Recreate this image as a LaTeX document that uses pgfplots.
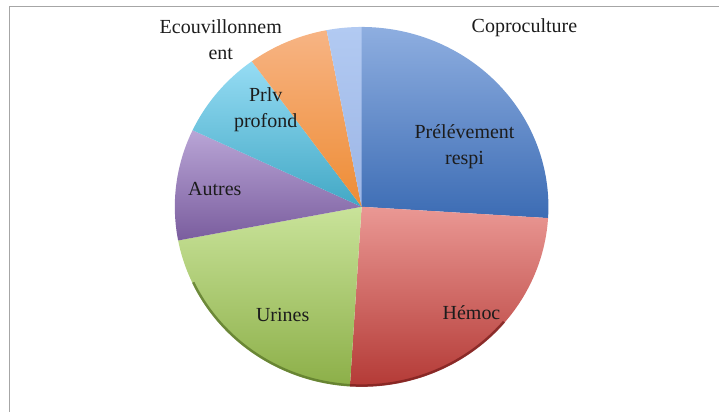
\documentclass[border=0pt]{standalone}
\usepackage{fontspec}
\setmainfont{Liberation Serif}
\usepackage{pgfplots}
\pgfplotsset{compat=1.18}
\definecolor{respiT}{HTML}{8EAEE0}
\definecolor{respiB}{HTML}{3C6CB4}
\definecolor{hemocT}{HTML}{EA9894}
\definecolor{hemocB}{HTML}{B43A36}
\definecolor{urinT}{HTML}{C9E39A}
\definecolor{urinB}{HTML}{8CAF48}
\definecolor{autrT}{HTML}{B9A5D6}
\definecolor{autrB}{HTML}{7A5D9E}
\definecolor{prlvT}{HTML}{96DCF4}
\definecolor{prlvB}{HTML}{42A8C5}
\definecolor{ecouT}{HTML}{F7B484}
\definecolor{ecouB}{HTML}{EE8C34}
\definecolor{copT}{HTML}{B2CAF2}
\definecolor{copB}{HTML}{9CB5E5}
\definecolor{frame}{HTML}{A6A6A6}
\definecolor{txt}{HTML}{1C1C1C}
\definecolor{urinR}{HTML}{5E7A2C}
\definecolor{hemocR}{HTML}{7E2220}
\tikzset{lbl/.style={font=\fontsize{20}{26}\selectfont, text=txt, align=center, inner sep=0pt}}
\begin{document}
\begin{tikzpicture}
\def\cx{362}\def\cy{205}\def\rx{187}\def\ry{180}
\begin{axis}[
  width=720pt, height=412pt, scale only axis,
  xmin=0, xmax=720, ymin=0, ymax=412,
  axis lines=none, ticks=none, clip=false,
]
\addplot[draw=none, mark=none] coordinates {(0,0) (720,412)};
\addplot[frame, line width=1.5pt] coordinates {(9.5,0) (9.5,405.5) (720,405.5)};
\xdef\start{90}
\foreach \v/\ct/\cb in {26/respiT/respiB, 25/hemocT/hemocB, 21/urinT/urinB, 10/autrT/autrB, 8/prlvT/prlvB, 7/ecouT/ecouB, 3/copT/copB}{
  \pgfmathsetmacro\endang{\start-\v*3.6}
  \edef\temp{\noexpand\addplot[draw=none, top color=\ct, bottom color=\cb, domain=\endang:\start, samples=90, variable=\noexpand\t]
    ({\cx+\rx*cos(\noexpand\t)},{\cy+\ry*sin(\noexpand\t)}) -- (axis cs:\cx,\cy) -- cycle;}
  \temp
  \xdef\start{\endang}
}
% darker rim along the lower edge (3D bevel)
\addplot[urinR, line width=2.5pt, opacity=0.8, domain=205:266.4, samples=60, variable=\t]
  ({\cx+(\rx-1)*cos(\t)},{\cy+(\ry-1)*sin(\t)});
\addplot[hemocR, line width=2.5pt, opacity=0.8, domain=266.4:320, samples=60, variable=\t]
  ({\cx+(\rx-1)*cos(\t)},{\cy+(\ry-1)*sin(\t)});
\node[lbl] at (axis cs:465,265) {Prélévement\\respi};
\node[lbl] at (axis cs:472,99) {Hémoc};
\node[lbl] at (axis cs:283,97) {Urines};
\node[lbl] at (axis cs:215,223) {Autres};
\node[lbl] at (axis cs:266,302) {Prlv\\profond};
\node[lbl] at (axis cs:221,372) {Ecouvillonnem\\ent};
\node[lbl] at (axis cs:525,384) {Coproculture};
\end{axis}
\end{tikzpicture}
\end{document}
